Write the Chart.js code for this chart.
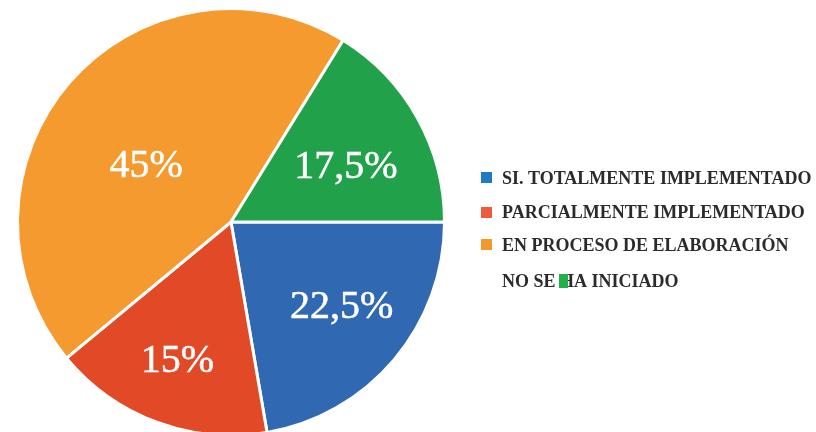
<!DOCTYPE html>
<html>
<head>
<meta charset="utf-8">
<script src="https://cdn.jsdelivr.net/npm/chart.js@4/dist/chart.umd.min.js"></script>
<style>
  html, body { margin: 0; padding: 0; background: #fff; overflow: hidden; }
  #wrap { width: 816px; height: 440px; position: relative; }
</style>
</head>
<body>
<div id="wrap"><canvas id="pie"></canvas></div>
<script>
// Data: slice sizes as drawn in the picture, labels as printed on it
const labels = ['SI. TOTALMENTE IMPLEMENTADO', 'PARCIALMENTE IMPLEMENTADO', 'EN PROCESO DE ELABORACIÓN', 'NO SE HA INICIADO'];
const values = [22.3, 16.7, 44.8, 16.2];
const valueLabels = ['22,5%', '15%', '45%', '17,5%'];

// Colours
const sliceColors = ['#3168b2', '#e24a27', '#f59a2f', '#22a14b'];
const legendColors = ['#1d7bc1', '#f05a3c', '#f6972c', '#22b04b'];

// label placement: share of the radius, and a small turn (degrees) off the slice middle
const labelRadius = [0.65, 0.69, 0.48, 0.6];
const labelTurn = [-3, 1, -7, 3];

const legendStyle = {
  textX: 502, rows: [178, 212, 245, 281],
  boxes: [[481, 172, 11, 11], [481, 207, 11, 11], [481, 239, 11, 11], [559, 274, 9, 14]],
  font: 'bold 18px "Liberation Serif"', color: '#2b2b2b'
};

const pieLabels = {
  id: 'pieLabels',
  afterDatasetsDraw(chart) {
    const { ctx } = chart;
    const arcs = chart.getDatasetMeta(0).data;
    ctx.save();
    ctx.fillStyle = '#ffffff';
    ctx.strokeStyle = '#ffffff';
    ctx.lineWidth = 0.5;
    ctx.font = '40px "Liberation Serif"';
    ctx.textAlign = 'center';
    ctx.textBaseline = 'middle';
    arcs.forEach((arc, i) => {
      const mid = (arc.startAngle + arc.endAngle) / 2 + labelTurn[i] * Math.PI / 180;
      const r = arc.outerRadius * labelRadius[i];
      const x = arc.x + Math.cos(mid) * r;
      const y = arc.y + Math.sin(mid) * r + 2;
      ctx.fillText(valueLabels[i], x, y);
      ctx.strokeText(valueLabels[i], x, y);
    });
    ctx.restore();
  }
};

const sideLegend = {
  id: 'sideLegend',
  afterDraw(chart) {
    const { ctx } = chart;
    ctx.save();
    ctx.font = legendStyle.font;
    ctx.textBaseline = 'middle';
    ctx.textAlign = 'left';
    ctx.fillStyle = legendStyle.color;
    labels.forEach((label, i) => {
      ctx.fillText(label, legendStyle.textX, legendStyle.rows[i] + 1);
    });
    labels.forEach((label, i) => {
      const [x, y, w, h] = legendStyle.boxes[i];
      ctx.fillStyle = legendColors[i];
      ctx.fillRect(x, y, w, h);
    });
    ctx.restore();
  }
};

new Chart(document.getElementById('pie'), {
  type: 'pie',
  data: {
    labels,
    datasets: [{
      data: values,
      backgroundColor: sliceColors,
      borderColor: '#ffffff',
      borderWidth: 3
    }]
  },
  options: {
    responsive: true,
    maintainAspectRatio: false,
    animation: false,
    rotation: 90,
    layout: { padding: { left: 16, right: 370, top: 7, bottom: 3 } },
    plugins: {
      legend: { display: false },
      tooltip: { enabled: false }
    }
  },
  plugins: [pieLabels, sideLegend]
});
</script>
</body>
</html>
